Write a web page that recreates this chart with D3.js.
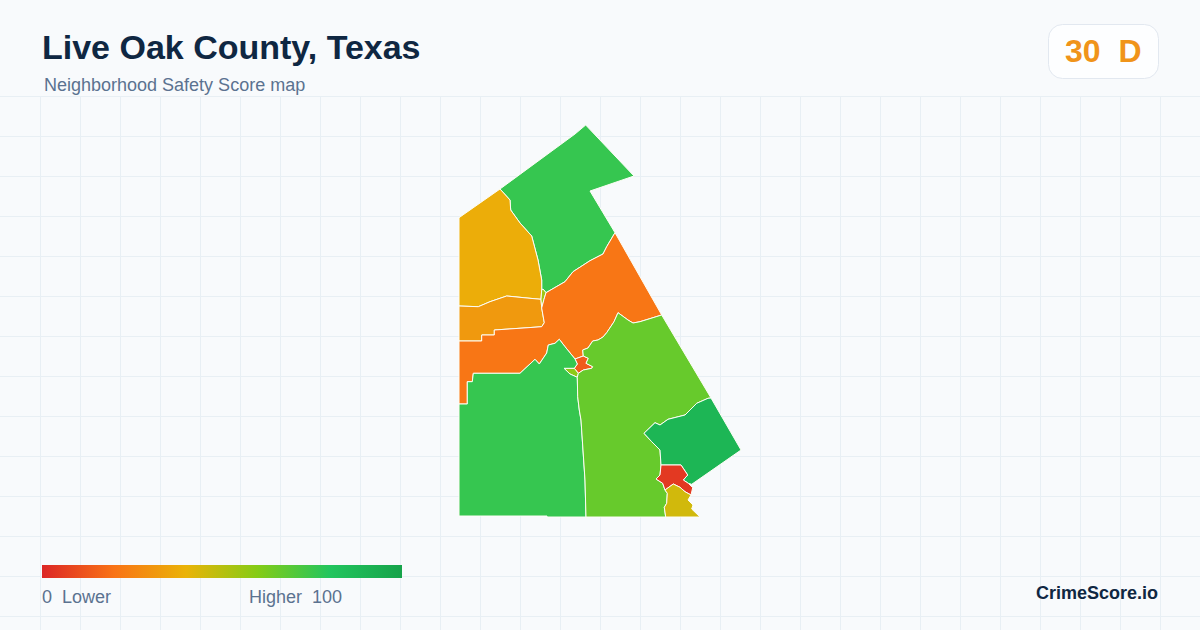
<!DOCTYPE html>
<html>
<head>
<meta charset="utf-8">
<script src="https://cdn.jsdelivr.net/npm/d3@7"></script>
<style>
  html, body { margin: 0; padding: 0; background: #f8fafc; }
  svg { display: block; font-family: "Liberation Sans", Arial, sans-serif; }
  .keep-spaces { white-space: pre; }
</style>
</head>
<body>
<div id="app"></div>
<script>
// Values
const countyName = 'Live Oak County, Texas';
const subtitle = 'Neighborhood Safety Score map';
const countyScore = 30;
const countyGrade = 'D';

const scaleStops = [0, 20, 40, 60, 80, 100];
const scaleColors = ['#dc2626', '#f97316', '#eab308', '#84cc16', '#22c55e', '#16a34a'];

// Map units: east / north of the county's south-west corner
const northTract = [[41,328],[116,383],[126.7,392],[175,341],[131,326],[156,284.3],[147.7,270.3],[144,263],[131,256.3],[114,245.3],[106,235.3],[87,224.3],[84,228],[82.7,227],[82.7,237],[79,257],[72.7,281],[61,294],[51.7,307],[51,317]];
const northwestTract = [[0,299.3],[41,328],[51,317],[51.7,307],[61,294],[72.7,281],[79,257],[82.7,237],[82.7,227],[82,217.7],[71,218.7],[47.7,221],[31,215.3],[19.3,210.3],[0,211]];
const westTract = [[0,211],[19.3,210.3],[31,215.3],[47.7,221],[71,218.7],[82,217.7],[82.7,209],[85.3,194.3],[82.7,190.3],[69,189.3],[35.3,187],[35.3,182],[22.7,182],[22.7,176],[0,176]];
const sliverTract = [[84,228],[87,224.3],[85,217.7],[82.7,209],[82,217.7],[82.7,227]];
const centralTract = [[156,284.3],[202.7,202],[181,195.3],[174,194],[169,197],[159,204.3],[155,195.3],[147.7,184.3],[144,180],[139,177],[133.7,176],[129,169],[123.7,167],[124.3,161],[116,158],[106,170.3],[100.3,177.7],[96,173.7],[89.3,172],[87.7,164],[80.3,153],[76,157.7],[61,143.7],[14.3,143.7],[13.3,135.3],[8.3,135.3],[8.3,113],[0,113],[0,176],[22.7,176],[22.7,182],[35.3,182],[35.3,187],[69,189.3],[82.7,190.3],[85.3,194.3],[82.7,209],[85,217.7],[87,224.3],[106,235.3],[114,245.3],[131,256.3],[144,263],[147.7,270.3]];
const townTract = [[124.3,161],[129.3,158.7],[127,153.7],[133.7,150.3],[132.7,148.7],[124.3,147],[119.3,143.7],[115.3,148.7],[118.3,153],[116,158]];
const townEdgeTract = [[105,148.7],[115.3,148.7],[119.3,143.7],[118.3,139.7],[111,143]];
const southwestTract = [[0,113],[8.3,113],[8.3,135.3],[13.3,135.3],[14.3,143.7],[61,143.7],[76,157.7],[80.3,153],[87.7,164],[89.3,172],[96,173.7],[100.3,177.7],[106,170.3],[116,158],[118.3,153],[115.3,148.7],[105,148.7],[111,143],[118.3,139.7],[118.7,120.3],[120.3,107],[122,97],[126,37],[127,0],[88,0],[88,1],[0,1]];
const southTract = [[202.7,202],[252,119],[249,118.7],[237.7,113.7],[226,102],[209,97.7],[201,92],[196,94.3],[185,83.7],[192.7,75.3],[201,67],[202,52],[201,42],[197,38],[203.7,33.7],[206,27],[208.3,23.7],[207.7,13.7],[205.3,9.7],[206.7,0],[127,0],[126,37],[122,97],[120.3,107],[118.7,120.3],[118.3,139.7],[119.3,143.7],[124.3,147],[132.7,148.7],[133.7,150.3],[127,153.7],[129.3,158.7],[124.3,161],[123.7,167],[129,169],[133.7,176],[139,177],[144,180],[147.7,184.3],[155,195.3],[159,204.3],[169,197],[174,194],[181,195.3]];
const southeastTract = [[252,119],[282,67],[232.7,32.7],[229.3,33.7],[224.3,37],[228.7,42],[222,52],[202,52],[201,67],[192.7,75.3],[185,83.7],[196,94.3],[201,92],[209,97.7],[226,102],[237.7,113.7],[249,118.7]];
const redTract = [[202,52],[222,52],[228.7,42],[224.3,37],[229.3,33.7],[233.7,29.3],[232,22],[226,25.3],[221,29.7],[214.3,33],[206,27],[203.7,33.7],[197,38],[201,42]];
const yellowTract = [[206,27],[214.3,33],[221,29.7],[226,25.3],[232,22],[229,17],[234,12],[232.7,8],[241,0],[206.7,0],[205.3,9.7],[207.7,13.7],[208.3,23.7]];

const tractShapes = [northTract, northwestTract, westTract, sliverTract, centralTract, townTract, townEdgeTract, southwestTract, southTract, southeastTract, redTract, yellowTract];
const tractScores = [76, 38, 32, 55, 21, 14, 58, 76, 66, 89, 5, 45];

function render() {
  const width = 1200, height = 630;
  const svg = d3.select('#app').append('svg')
    .attr('width', width)
    .attr('height', height)
    .attr('viewBox', `0 0 ${width} ${height}`);

  svg.append('rect').attr('width', width).attr('height', height).attr('fill', '#f8fafc');

  // grid behind the map
  const gridTop = 97;
  const grid = svg.append('g').attr('stroke', '#e8eff4').attr('stroke-width', 1);
  grid.selectAll('.v').data(d3.range(40.5, width, 40)).join('line')
    .attr('class', 'v')
    .attr('x1', d => d).attr('x2', d => d)
    .attr('y1', gridTop).attr('y2', height);
  grid.selectAll('.h').data(d3.range(gridTop - 0.5, height, 40)).join('line')
    .attr('class', 'h')
    .attr('x1', 0).attr('x2', width)
    .attr('y1', d => d).attr('y2', d => d);

  // header
  svg.append('text')
    .attr('x', 42).attr('y', 59)
    .attr('font-size', 34).attr('font-weight', 700)
    .attr('fill', '#0f2742')
    .text(countyName);
  svg.append('text')
    .attr('x', 44).attr('y', 91)
    .attr('font-size', 18)
    .attr('fill', '#5b7290')
    .text(subtitle);

  // score badge
  svg.append('rect')
    .attr('x', 1048.5).attr('y', 24.5)
    .attr('width', 110).attr('height', 54).attr('rx', 14)
    .attr('fill', '#fdfeff').attr('stroke', '#e2e8f0');
  svg.append('text')
    .attr('class', 'keep-spaces')
    .attr('x', 1065).attr('y', 62)
    .attr('font-size', 32).attr('font-weight', 700)
    .attr('fill', '#f0941a')
    .text(`${countyScore}  ${countyGrade}`);

  // map
  const color = d3.scaleLinear().domain(scaleStops).range(scaleColors).clamp(true);
  const x = d3.scaleLinear().domain([0, 282]).range([459, 741]);
  const y = d3.scaleLinear().domain([0, 392]).range([517, 125]);
  const outline = d3.line().x(d => x(d[0])).y(d => y(d[1])).curve(d3.curveLinearClosed);

  svg.append('g').selectAll('path')
    .data(tractShapes)
    .join('path')
    .attr('d', outline)
    .attr('fill', (d, i) => color(tractScores[i]))
    .attr('stroke', '#fdfdf5')
    .attr('stroke-width', 1)
    .attr('stroke-linejoin', 'round');

  // legend
  const legendX = d3.scaleLinear().domain([0, 100]).range([42, 402]);
  const gradient = svg.append('defs').append('linearGradient').attr('id', 'score-ramp');
  gradient.selectAll('stop')
    .data(scaleStops)
    .join('stop')
    .attr('offset', d => `${d}%`)
    .attr('stop-color', (d, i) => scaleColors[i]);
  svg.append('rect')
    .attr('x', legendX(0)).attr('y', 565)
    .attr('width', legendX(100) - legendX(0)).attr('height', 13)
    .attr('fill', 'url(#score-ramp)');

  const legendLabels = svg.append('g').attr('font-size', 18).attr('fill', '#5b7290');
  legendLabels.append('text').attr('class', 'keep-spaces').attr('x', 42).attr('y', 603).text('0  Lower');
  legendLabels.append('text').attr('class', 'keep-spaces').attr('x', 249).attr('y', 603).text('Higher  100');

  svg.append('text')
    .attr('x', 1158).attr('y', 599)
    .attr('text-anchor', 'end')
    .attr('font-size', 18).attr('font-weight', 700)
    .attr('fill', '#0f2742')
    .text('CrimeScore.io');
}

render();
</script>
</body>
</html>
